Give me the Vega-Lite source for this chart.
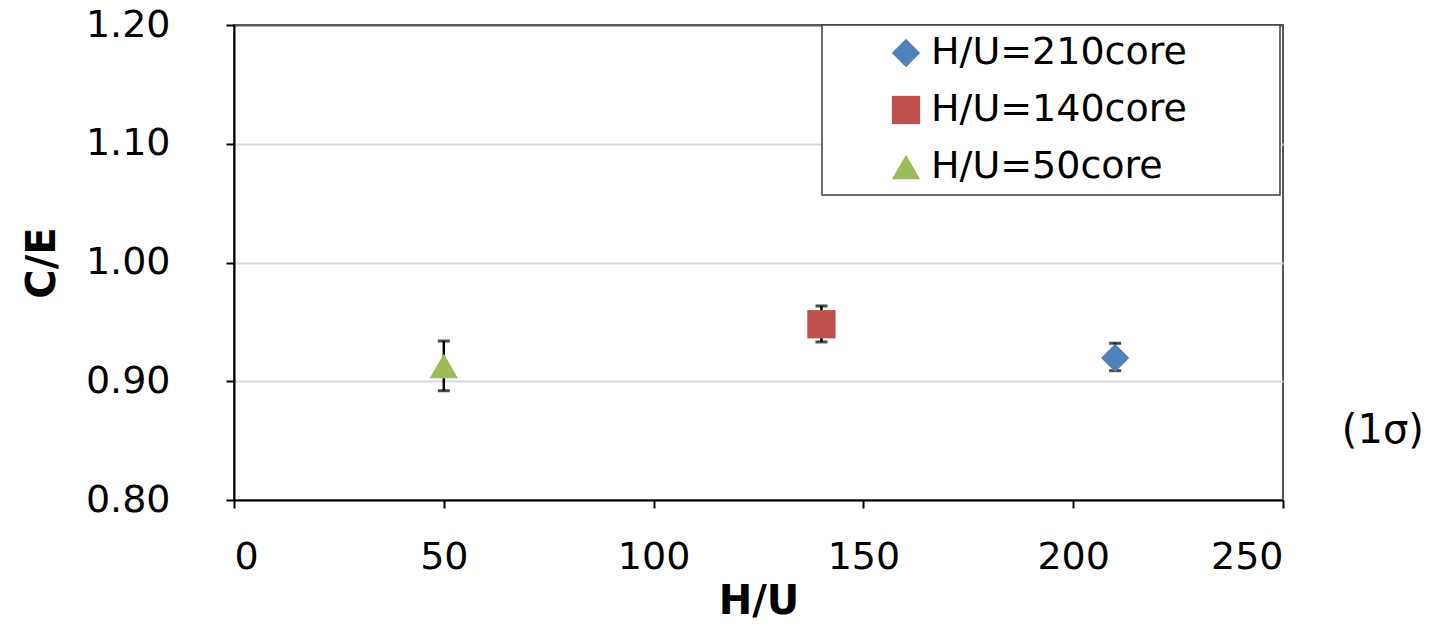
{
  "$schema": "https://vega.github.io/schema/vega-lite/v6.json",
  "width": 1049,
  "height": 475,
  "autosize": {"type": "none"},
  "padding": {"left": 234, "top": 25, "right": 150, "bottom": 125},
  "background": "white",
  "config": {
    "font": "DejaVu Sans",
    "view": {"stroke": "#595959", "strokeWidth": 2},
    "axis": {
      "labelFont": "DejaVu Sans",
      "labelFontSize": 38,
      "labelColor": "#000000",
      "titleFont": "DejaVu Sans",
      "titleFontSize": 40,
      "titleFontWeight": "bold",
      "titleColor": "#000000",
      "domainColor": "#000000",
      "domainWidth": 2,
      "tickColor": "#000000",
      "tickWidth": 2,
      "tickSize": 8
    },
    "legend": {
      "labelFont": "DejaVu Sans",
      "labelFontSize": 38,
      "labelColor": "#000000",
      "labelLimit": 0,
      "strokeColor": "#404040",
      "fillColor": "white"
    }
  },
  "datasets": {
    "points": [
      {"hu": 210, "ce": 0.9196, "lo": 0.9089, "hi": 0.932, "series": "H/U=210core"},
      {"hu": 140, "ce": 0.948, "lo": 0.9331, "hi": 0.9634, "series": "H/U=140core"},
      {"hu": 50, "ce": 0.9128, "lo": 0.892, "hi": 0.9339, "series": "H/U=50core"}
    ],
    "note": [
      {"hu": 273.8, "ce": 0.858, "text": "(1σ)"}
    ]
  },
  "layer": [
    {
      "data": {"name": "points"},
      "mark": {"type": "rule", "color": "#000000", "strokeWidth": 2.5},
      "encoding": {
        "x": {"field": "hu", "type": "quantitative",
          "scale": {"domain": [0, 250], "nice": false, "zero": false},
          "axis": {"values": [0, 50, 100, 150, 200, 250], "grid": false, "labelPadding": 30, "titlePadding": 5, "title": "H/U"}},
        "y": {"field": "lo", "type": "quantitative",
          "scale": {"domain": [0.8, 1.2], "nice": false, "zero": false},
          "axis": {"values": [0.8, 0.9, 1.0, 1.1, 1.2], "format": ".2f", "grid": true,
            "gridColor": {"condition": {"test": "datum.value >= 1.19", "value": "#595959"}, "value": "#d9d9d9"},
            "gridWidth": 2, "labelPadding": 56, "titlePadding": 23, "title": "C/E"}},
        "y2": {"field": "hi"}
      }
    },
    {
      "data": {"name": "points"},
      "mark": {"type": "tick", "color": "#000000", "thickness": 3, "size": 12, "orient": "horizontal"},
      "encoding": {
        "x": {"field": "hu", "type": "quantitative"},
        "y": {"field": "lo", "type": "quantitative"}
      }
    },
    {
      "data": {"name": "points"},
      "mark": {"type": "tick", "color": "#000000", "thickness": 3, "size": 12, "orient": "horizontal"},
      "encoding": {
        "x": {"field": "hu", "type": "quantitative"},
        "y": {"field": "hi", "type": "quantitative"}
      }
    },
    {
      "data": {"name": "points"},
      "mark": {"type": "point", "filled": true, "opacity": 1, "size": 800},
      "encoding": {
        "x": {"field": "hu", "type": "quantitative"},
        "y": {"field": "ce", "type": "quantitative"},
        "color": {"field": "series", "type": "nominal",
          "scale": {"domain": ["H/U=210core", "H/U=140core", "H/U=50core"], "range": ["#4F81BD", "#C0504D", "#9BBB59"]},
          "legend": {"title": null, "orient": "none", "legendX": 588, "legendY": 0,
            "padding": 9, "symbolOffset": 56, "symbolSize": 800, "labelOffset": 6, "rowPadding": 19,
            "symbolStrokeWidth": 0, "symbolOpacity": 1,
            "labelExpr": "datum.label + '\u2800\u2800\u2800'",
            "encode": {"legend": {"update": {"strokeWidth": {"value": 1.5}}}}}},
        "shape": {"field": "series", "type": "nominal",
          "scale": {"domain": ["H/U=210core", "H/U=140core", "H/U=50core"], "range": ["diamond", "square", "triangle-up"]}}
      }
    },
    {
      "data": {"name": "note"},
      "mark": {"type": "text", "font": "DejaVu Sans", "fontSize": 40, "color": "#000000", "align": "center", "baseline": "middle", "clip": false},
      "encoding": {
        "x": {"field": "hu", "type": "quantitative"},
        "y": {"field": "ce", "type": "quantitative"},
        "text": {"field": "text"}
      }
    }
  ]
}
